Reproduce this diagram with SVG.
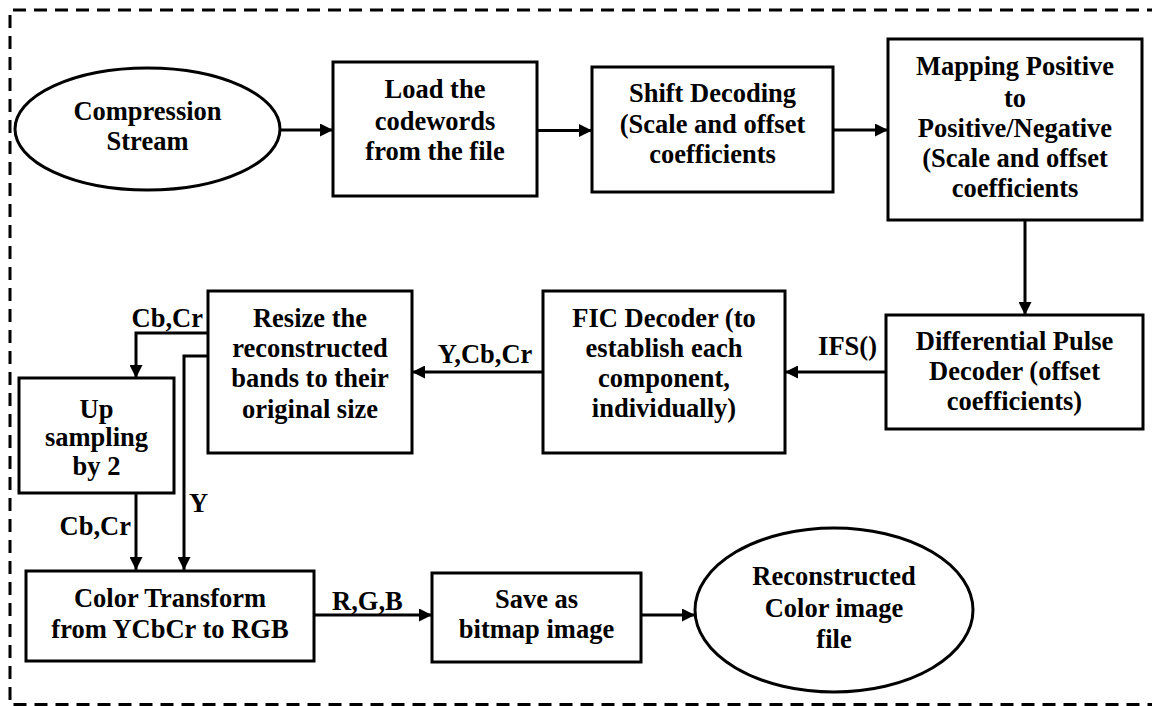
<svg xmlns="http://www.w3.org/2000/svg" width="1152" height="706" viewBox="0 0 1152 706">
  <style>
    .box { fill: #fff; stroke: #000; stroke-width: 3; }
    text { font-family: 'Liberation Serif', 'DejaVu Serif', serif; font-weight: bold; font-size: 26.5px; fill: #000; }
    .lbl { text-anchor: middle; }
    .wire { fill: none; stroke: #000; stroke-width: 3; marker-end: url(#arrow); }
    .frame { fill: none; stroke: #000; stroke-width: 3; stroke-dasharray: 13 8; }
  </style>
  <defs>
    <marker id="arrow" markerUnits="userSpaceOnUse" markerWidth="14" markerHeight="13" refX="13" refY="6.5" orient="auto">
      <path d="M0,0 L13,6.5 L0,13 z" fill="#000"/>
    </marker>
  </defs>

  <rect width="1152" height="706" fill="#fff"/>

  <!-- dashed outer frame (right edge lies outside the canvas) -->
  <path class="frame" d="M1160,10 H10 V704.5 H1160"/>

  <!-- connectors -->
  <g id="connectors">
    <path class="wire" d="M280,130 H333"/>
    <path class="wire" d="M537,130.5 H592"/>
    <path class="wire" d="M833,130 H888"/>
    <path class="wire" d="M1025,220 V315"/>
    <path class="wire" d="M886,372 H785"/>
    <path class="wire" d="M543,372 H412"/>
    <path class="wire" d="M208,333 H136 V378"/>
    <path class="wire" d="M208,356 H184 V570"/>
    <path class="wire" d="M136,493 V570"/>
    <path class="wire" d="M314,615 H432"/>
    <path class="wire" d="M641,615 H695"/>
    <text x="877" y="355" text-anchor="end">IFS()</text>
    <text x="485" y="363" text-anchor="middle">Y,Cb,Cr</text>
    <text x="203" y="327" text-anchor="end">Cb,Cr</text>
    <text x="189" y="512">Y</text>
    <text x="131" y="535" text-anchor="end">Cb,Cr</text>
    <text x="332" y="610">R,G,B</text>
  </g>

  <g id="compression-stream">
    <ellipse class="box" cx="147.5" cy="129" rx="132.5" ry="61"/>
    <text class="lbl" x="147.5" y="120">Compression</text>
    <text class="lbl" x="147.5" y="150">Stream</text>
  </g>

  <g id="load-codewords">
    <rect class="box" x="333" y="62" width="204" height="134"/>
    <text class="lbl" x="435" y="98">Load the</text>
    <text class="lbl" x="435" y="130">codewords</text>
    <text class="lbl" x="435" y="160">from the file</text>
  </g>

  <g id="shift-decoding">
    <rect class="box" x="592" y="67" width="241" height="125"/>
    <text class="lbl" x="712.5" y="102">Shift Decoding</text>
    <text class="lbl" x="712.5" y="133">(Scale and offset</text>
    <text class="lbl" x="712.5" y="163">coefficients</text>
  </g>

  <g id="mapping">
    <rect class="box" x="888" y="39" width="254" height="181"/>
    <text class="lbl" x="1015" y="75">Mapping Positive</text>
    <text class="lbl" x="1015" y="107">to</text>
    <text class="lbl" x="1015" y="137">Positive/Negative</text>
    <text class="lbl" x="1015" y="167">(Scale and offset</text>
    <text class="lbl" x="1015" y="197">coefficients</text>
  </g>

  <g id="dpcm-decoder">
    <rect class="box" x="886" y="315" width="257" height="114"/>
    <text class="lbl" x="1014.5" y="350">Differential Pulse</text>
    <text class="lbl" x="1014.5" y="380">Decoder (offset</text>
    <text class="lbl" x="1014.5" y="410">coefficients)</text>
  </g>

  <g id="fic-decoder">
    <rect class="box" x="543" y="291" width="242" height="162"/>
    <text class="lbl" x="664" y="327">FIC Decoder (to</text>
    <text class="lbl" x="664" y="357">establish each</text>
    <text class="lbl" x="664" y="387">component,</text>
    <text class="lbl" x="664" y="417">individually)</text>
  </g>

  <g id="resize-bands">
    <rect class="box" x="208" y="291" width="204" height="162"/>
    <text class="lbl" x="310" y="327">Resize the</text>
    <text class="lbl" x="310" y="357">reconstructed</text>
    <text class="lbl" x="310" y="387">bands to their</text>
    <text class="lbl" x="310" y="418">original size</text>
  </g>

  <g id="up-sampling">
    <rect class="box" x="19" y="378" width="155" height="115"/>
    <text class="lbl" x="96.5" y="418">Up</text>
    <text class="lbl" x="96.5" y="446">sampling</text>
    <text class="lbl" x="96.5" y="475">by 2</text>
  </g>

  <g id="color-transform">
    <rect class="box" x="26" y="571" width="288" height="90"/>
    <text class="lbl" x="170" y="607">Color Transform</text>
    <text class="lbl" x="170" y="638">from YCbCr to RGB</text>
  </g>

  <g id="save-bitmap">
    <rect class="box" x="432" y="573" width="209" height="89"/>
    <text class="lbl" x="536.5" y="608">Save as</text>
    <text class="lbl" x="536.5" y="638">bitmap image</text>
  </g>

  <g id="reconstructed-file">
    <ellipse class="box" cx="834" cy="610" rx="139" ry="82"/>
    <text class="lbl" x="834" y="585">Reconstructed</text>
    <text class="lbl" x="834" y="617">Color image</text>
    <text class="lbl" x="834" y="648">file</text>
  </g>
</svg>
